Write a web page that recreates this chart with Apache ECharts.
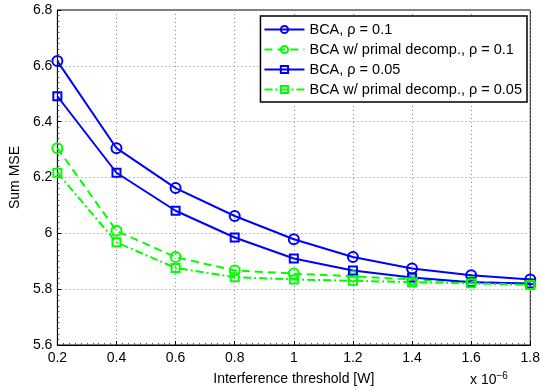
<!DOCTYPE html>
<html>
<head>
<meta charset="utf-8">
<script src="https://cdn.jsdelivr.net/npm/echarts@6/dist/echarts.min.js"></script>
<style>
  html, body { margin: 0; padding: 0; background: #fff; }
  #chart { width: 543px; height: 391px; }
</style>
</head>
<body>
<div id="chart"></div>
<script>
// interference threshold, in units of 1e-6 W
const thresholds = [0.2, 0.4, 0.6, 0.8, 1.0, 1.2, 1.4, 1.6, 1.8];

const bcaRho01 = [6.617, 6.305, 6.162, 6.062, 5.979, 5.915, 5.874, 5.850, 5.835];
const primalRho01 = [6.305, 6.009, 5.915, 5.867, 5.856, 5.846, 5.835, 5.826, 5.818];
const bcaRho005 = [6.491, 6.217, 6.081, 5.985, 5.910, 5.867, 5.842, 5.825, 5.820];
const primalRho005 = [6.217, 5.968, 5.876, 5.843, 5.835, 5.830, 5.825, 5.821, 5.815];

const seriesNames = [
  "BCA, ρ = 0.1",
  "BCA w/ primal decomp., ρ = 0.1",
  "BCA, ρ = 0.05",
  "BCA w/ primal decomp., ρ = 0.05",
];

const FONT = "Liberation Sans, Arial, sans-serif";
const pairs = (ys) => thresholds.map((x, i) => [x, ys[i]]);

const chart = echarts.init(document.getElementById("chart"), null, { renderer: "canvas" });

const mkSeries = (name, ys, color, symbol, size, lineType) => ({
  name: name,
  type: "line",
  data: pairs(ys),
  symbol: symbol,
  symbolSize: size,
  showSymbol: true,
  lineStyle: { color: color, width: 2, type: lineType },
  itemStyle: { color: "rgba(255,255,255,0)", borderColor: color, borderWidth: 2 },
  emphasis: { disabled: true },
  animation: false,
});

const option = {
  animation: false,
  textStyle: { fontFamily: FONT },
  grid: {
    left: 54, right: 10, top: 10, bottom: 46,
    show: true, borderColor: "#000", borderWidth: 1,
  },
  legend: {
    data: seriesNames,
    orient: "vertical",
    right: 16,
    top: 16,
    itemWidth: 40,
    itemHeight: 9,
    itemGap: 5,
    padding: [6, 5, 5, 3],
    backgroundColor: "#fff",
    borderColor: "#000",
    borderWidth: 1.5,
    textStyle: { fontFamily: FONT, fontSize: 14.5, color: "#000" },
  },
  xAxis: {
    type: "value",
    min: 0.2,
    max: 1.8,
    interval: 0.2,
    name: "Interference threshold [W]",
    nameLocation: "middle",
    nameGap: 27,
    nameTextStyle: { fontFamily: FONT, fontSize: 14, color: "#000" },
    axisLine: { lineStyle: { color: "#000", width: 1 } },
    axisTick: { inside: true, length: 4, lineStyle: { color: "#000" } },
    minorTick: { show: true, splitNumber: 10, length: 2, lineStyle: { color: "#555" } },
    axisLabel: { fontFamily: FONT, fontSize: 14, color: "#000", margin: 6 },
    splitLine: { show: true, lineStyle: { color: "#888", type: [1, 3], width: 1 } },
  },
  yAxis: {
    type: "value",
    min: 5.6,
    max: 6.8,
    interval: 0.2,
    name: "Sum MSE",
    nameLocation: "middle",
    nameGap: 34,
    nameTextStyle: { fontFamily: FONT, fontSize: 14, color: "#000" },
    axisLine: { show: true, lineStyle: { color: "#000", width: 1 } },
    axisTick: { show: true, inside: true, length: 4, lineStyle: { color: "#000" } },
    minorTick: { show: true, splitNumber: 10, length: 2, lineStyle: { color: "#555" } },
    axisLabel: { fontFamily: FONT, fontSize: 14, color: "#000", margin: 5 },
    splitLine: { show: true, lineStyle: { color: "#888", type: [1, 3], width: 1 } },
  },
  graphic: [
    {
      type: "text",
      left: 470,
      top: 371,
      style: {
        text: "x 10{s|−6}",
        fontFamily: FONT,
        fontSize: 14,
        fill: "#000",
        rich: { s: { fontSize: 10, verticalAlign: "top", padding: [0, 0, 8, 0] } },
      },
    },
  ],
  series: [
    mkSeries(seriesNames[0], bcaRho01, "#0000ff", "circle", 10, "solid"),
    mkSeries(seriesNames[1], primalRho01, "#00ff00", "circle", 10, [8, 5]),
    mkSeries(seriesNames[2], bcaRho005, "#0000ff", "rect", 8, "solid"),
    mkSeries(seriesNames[3], primalRho005, "#00ff00", "rect", 8, [8, 3, 2, 3]),
  ],
};

chart.setOption(option);
</script>
</body>
</html>
